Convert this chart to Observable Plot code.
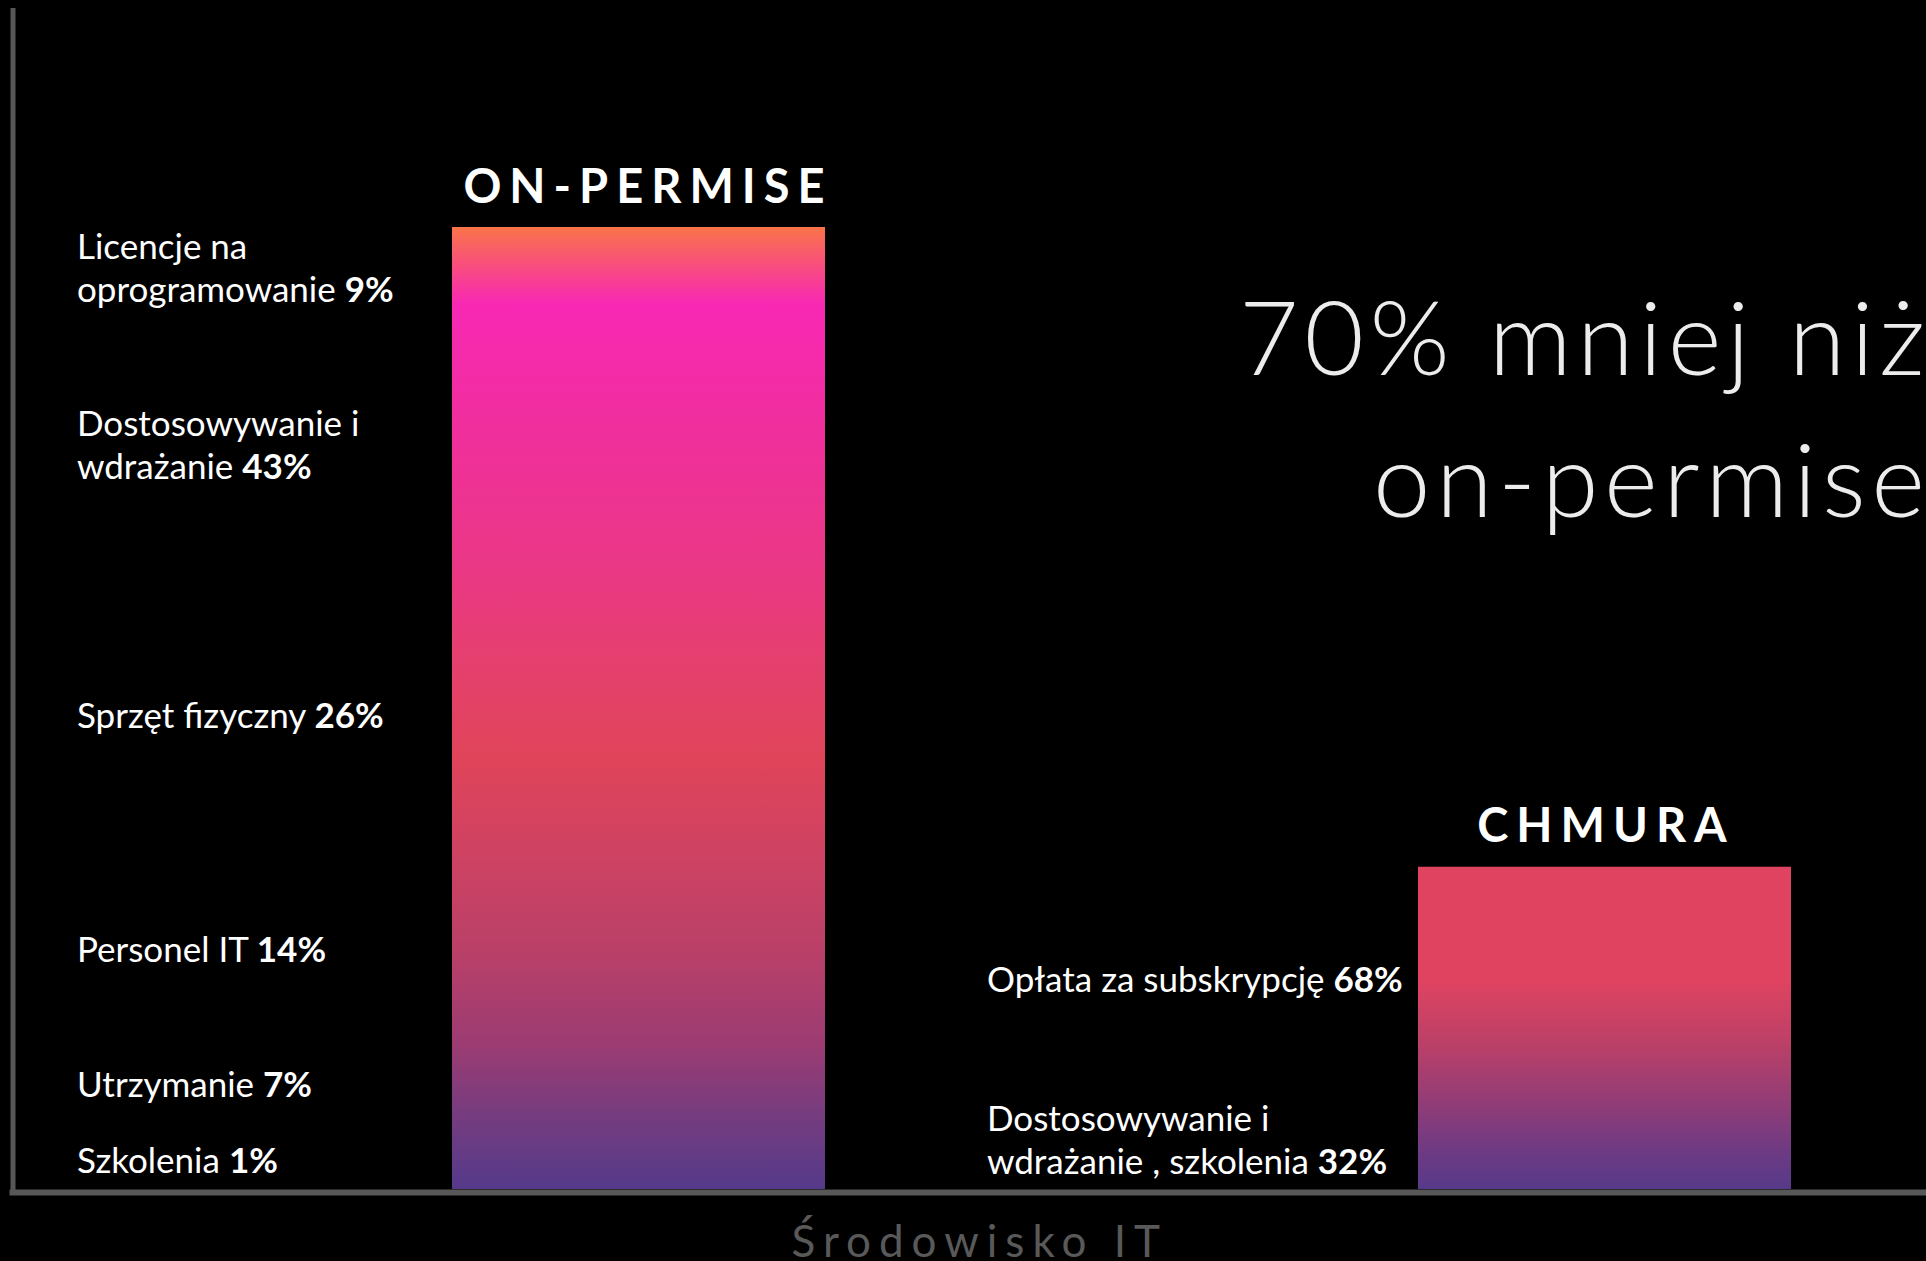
<!DOCTYPE html>
<html>
<head>
<meta charset="utf-8">
<script src="https://cdn.jsdelivr.net/npm/d3@7"></script>
<script src="https://cdn.jsdelivr.net/npm/@observablehq/plot@0.6"></script>
<style>
  html, body { margin: 0; padding: 0; background: #000; overflow: hidden; }
  #chart svg { display: block; }
</style>
</head>
<body>
<div id="chart"></div>
<script>
// ---- data ----
const environments = ["ON-PERMISE", "CHMURA"];
const totalCost = [100, 33.5]; // relative total cost (on-permise = 100)

const onPremItems = [
  "Licencje na\noprogramowanie",
  "Dostosowywanie i\nwdrażanie",
  "Sprzęt fizyczny",
  "Personel IT",
  "Utrzymanie",
  "Szkolenia"
];
const onPremShares = [9, 43, 26, 14, 7, 1];

const cloudItems = [
  "Opłata za subskrypcję",
  "Dostosowywanie i\nwdrażanie , szkolenia"
];
const cloudShares = [68, 32];

const comparisonNote = "70% mniej niż\non-permise";
const xAxisLabel = "Środowisko IT";

// ---- layout (label anchors in y-scale units) ----
const onPremLabelY = [92.3, 73.9, 48.0, 23.6, 9.6, 1.7];
const cloudLabelY = [20.5, 1.6];

// ---- styles ----
const gradientStops = {
  gradOnPrem: [
    [0, "#F97448"], [0.08, "#F828B4"], [0.2, "#F02E9E"], [0.35, "#EA3786"],
    [0.45, "#E6406F"], [0.55, "#E0445A"], [0.65, "#CF4262"], [0.75, "#BA4068"],
    [0.85, "#9C3C73"], [0.92, "#773C7E"], [1, "#553A8A"]
  ],
  gradCloud: [
    [0, "#E04360"], [0.35, "#E04360"], [0.55, "#BB4068"], [0.75, "#8D3C78"],
    [0.9, "#6A3A84"], [1, "#573A8A"]
  ]
};

const bars = environments.map((env, i) => ({env, total: totalCost[i]}));
const onPremLabels = onPremItems.map((item, i) => ({
  env: environments[0], label: `${item} ${onPremShares[i]}%`, y: onPremLabelY[i]
}));
const cloudLabels = cloudItems.map((item, i) => ({
  env: environments[1], label: `${item} ${cloudShares[i]}%`, y: cloudLabelY[i]
}));

const axisColor = "#575757";

const chart = Plot.plot({
  width: 1926,
  height: 1261,
  marginLeft: 12.5,
  marginRight: 0,
  marginTop: 10,
  marginBottom: 72,
  style: {background: "#000", color: "#fff", fontFamily: "Lato, sans-serif", overflow: "hidden"},
  x: {domain: environments, range: [451, 1791], paddingInner: 0.614, paddingOuter: 0, axis: null},
  y: {domain: [0, 100], range: [1189, 227], axis: null},
  marks: [
    Plot.barY(bars.filter(d => d.env === environments[0]), {x: "env", y: "total", fill: "url(#gradOnPrem)"}),
    Plot.barY(bars.filter(d => d.env === environments[1]), {x: "env", y: "total", fill: "url(#gradCloud)"}),
    Plot.frame({anchor: "left", stroke: axisColor, strokeWidth: 5}),
    Plot.ruleY([0], {stroke: axisColor, strokeWidth: 6, dy: 3, strokeLinecap: "square"}),
    Plot.text(bars.filter(d => d.env === environments[0]), {
      x: "env", y: "total", text: "env", dy: -25, dx: 9, lineAnchor: "bottom",
      fontWeight: 700, fontSize: 47, fill: "#fff"
    }),
    Plot.text(onPremLabels, {
      x: "env", y: "y", text: "label", dx: -562, textAnchor: "start", lineAnchor: "bottom",
      lineHeight: 1.22, fontSize: 35, fill: "#fff"
    }),
    Plot.text(cloudLabels, {
      x: "env", y: "y", text: "label", dx: -618, textAnchor: "start", lineAnchor: "bottom",
      lineHeight: 1.22, fontSize: 35, fill: "#fff"
    }),
    Plot.text([comparisonNote], {
      text: d => d, frameAnchor: "top-right", dx: 4, dy: 506, textAnchor: "end", lineAnchor: "bottom",
      lineHeight: 1.37, fontSize: 103, fontWeight: 300, fill: "#ECECEC"
    }),
    Plot.text([xAxisLabel], {
      text: d => d, frameAnchor: "bottom", dx: 10, dy: 67, lineAnchor: "bottom",
      fontSize: 44, fill: "#595959"
    }),
    Plot.text(bars.filter(d => d.env === environments[1]), {
      x: "env", y: "total", text: "env", dy: -25, dx: 1, lineAnchor: "bottom",
      fontWeight: 700, fontSize: 47, fill: "#fff"
    })
  ]
});

// gradient definitions
const defs = d3.create("svg:defs");
for (const [id, stops] of Object.entries(gradientStops)) {
  const g = defs.append("linearGradient").attr("id", id)
    .attr("x1", 0).attr("y1", 0).attr("x2", 0).attr("y2", 1);
  for (const [o, c] of stops) g.append("stop").attr("offset", o).attr("stop-color", c);
}
chart.insertBefore(defs.node(), chart.firstChild);

// text groups in mark order
const [titleG, onPremG, cloudG, noteG, captionG, title2G] = chart.querySelectorAll('g[aria-label="text"]');
titleG.style.letterSpacing = "8px";
title2G.style.letterSpacing = "8px";
noteG.style.letterSpacing = "5.5px";
captionG.style.letterSpacing = "8px";

// bold percentages
for (const grp of [onPremG, cloudG]) {
  grp.querySelectorAll("text").forEach(t => {
    const targets = t.querySelector("tspan") ? [...t.querySelectorAll("tspan")] : [t];
    for (const node of targets) {
      const m = node.textContent.match(/^(.*\s)(\d+%)$/);
      if (!m) continue;
      node.textContent = m[1];
      const b = document.createElementNS("http://www.w3.org/2000/svg", "tspan");
      b.setAttribute("font-weight", "700");
      b.textContent = m[2];
      node.appendChild(b);
    }
  });
}

document.getElementById("chart").appendChild(chart);
</script>
</body>
</html>
